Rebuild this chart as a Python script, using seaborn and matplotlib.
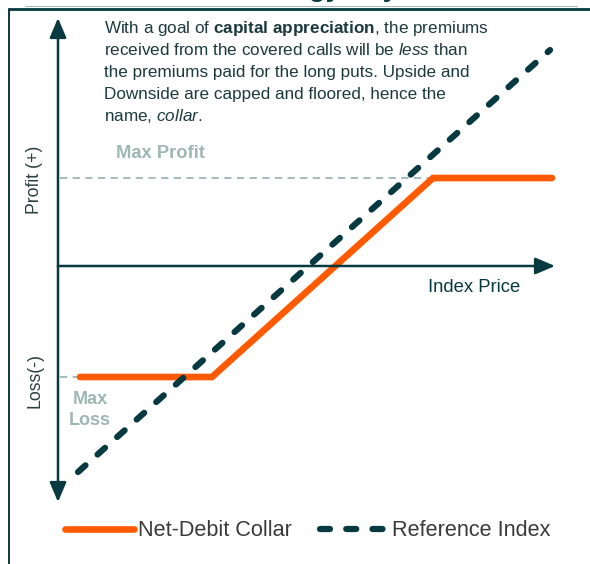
import numpy as np
import pandas as pd
import matplotlib
matplotlib.use("Agg")
import matplotlib.pyplot as plt
from matplotlib.lines import Line2D
import seaborn as sns

# payoff data (index price vs profit/loss, arbitrary units, origin at axis crossing)
collar_price = [2.2, 15.4, 37.5, 49.4]
collar_payoff = [-11.1, -11.1, 8.8, 8.8]
index_price = [2.0, 49.2]
index_payoff = [-20.6, 21.6]
max_profit = 8.8
max_loss = -11.1
labels = ["Net-Debit Collar", "Reference Index"]

teal = "#073a40"
orange = "#ff5a00"
grey = "#9db7b4"

sns.set_theme(style="white")
plt.rcParams["font.family"] = ["Liberation Sans", "DejaVu Sans"]
plt.rcParams["mathtext.fontset"] = "custom"
plt.rcParams["mathtext.rm"] = "Liberation Sans"
plt.rcParams["mathtext.bf"] = "Liberation Sans:bold"
plt.rcParams["mathtext.it"] = "Liberation Sans:italic"

W, H = 590, 564
fig = plt.figure(figsize=(W / 100, H / 100), dpi=100)
ax = fig.add_axes([0, 0, 1, 1])
ax.set_xlim(-5.8, 53.2)
ax.set_ylim(-29.8, 26.6)
ax.axis("off")

# frame lines around the panel
fig.add_artist(Line2D([25 / W, 577 / W], [1 - 6 / H, 1 - 6 / H], color="#a9b9b9", lw=0.8))
fig.add_artist(Line2D([9 / W, 1], [1 - 9 / H, 1 - 9 / H], color=teal, lw=2))
fig.add_artist(Line2D([9 / W, 9 / W], [0, 1 - 9 / H], color=teal, lw=1.4))
fig.text(230 / W, 1 + 3.5 / H, "Strategy Payoff", fontsize=20, fontweight="bold",
         color=teal, va="baseline", ha="left")

# guide lines for max profit / loss
ax.plot([0.2, 37.2], [max_profit, max_profit], color=grey, lw=1.3, ls=(0, (4, 3)))
ax.plot([0.2, 2.2], [max_loss, max_loss], color=grey, lw=1.3, ls=(0, (4, 3)))

# axes with arrows
arrow = dict(arrowstyle="-|>,head_length=0.4,head_width=0.17", mutation_scale=30,
             lw=1.8, color=teal, shrinkA=0, shrinkB=0)
ax.annotate("", xy=(0, 24.8), xytext=(0, 0), arrowprops=arrow)
ax.annotate("", xy=(0, -23.6), xytext=(0, 0), arrowprops=arrow)
ax.annotate("", xy=(49.7, 0), xytext=(0, 0), arrowprops=arrow)

df_collar = pd.DataFrame({"price": collar_price, "payoff": collar_payoff})
df_index = pd.DataFrame({"price": index_price, "payoff": index_payoff})
sns.lineplot(data=df_collar, x="price", y="payoff", color=orange, lw=4.8,
             solid_capstyle="round", solid_joinstyle="miter", sort=False,
             label=labels[0], ax=ax)
sns.lineplot(data=df_index, x="price", y="payoff", color=teal, lw=4.5,
             linestyle=(0, (1.6, 2.6)), dash_capstyle="round", sort=False,
             label=labels[1], ax=ax)
handles, labs = ax.get_legend_handles_labels()
ax.get_legend().remove()

# annotations
ax.text(10.2, max_profit + 2.5, "Max Profit", color=grey, fontsize=13.2,
        fontweight="bold", ha="center", va="center")
ax.text(3.2, max_loss - 3.3, "Max\nLoss", color=grey, fontsize=13,
        fontweight="bold", ha="center", va="center", linespacing=1.25)
ax.text(-2.3, max_profit - 0.2, "Profit (+)", rotation=90, color="#2d3e40",
        fontsize=12.7, ha="center", va="center")
ax.text(-2.3, max_loss - 0.3, "Loss(-)", rotation=90, color="#2d3e40", fontsize=12.7,
        ha="center", va="center")
ax.text(37.0, -2.1, "Index Price", color=teal, fontsize=13.3, ha="left", va="center")

lines = [
    r"With a goal of $\mathbf{capital\ appreciation}$, the premiums",
    r"received from the covered calls will be $\mathit{less}$ than",
    r"the premiums paid for the long puts. Upside and",
    r"Downside are capped and floored, hence the",
    r"name, $\mathit{collar}$.",
]
for i, t in enumerate(lines):
    py = 28 + 22 * i
    ax.text(4.6, (266 - py) / 10, t, color="#1c3a3e", fontsize=12.3,
            ha="left", va="center")

fig.legend(handles, labs, loc="center", bbox_to_anchor=(308 / W, 1 - 531 / H),
           ncol=2, frameon=False, fontsize=15.6, handlelength=3.2,
           handletextpad=0.15, columnspacing=1.3, labelcolor="#3a3a3a")

fig.savefig("out.png", dpi=100)
